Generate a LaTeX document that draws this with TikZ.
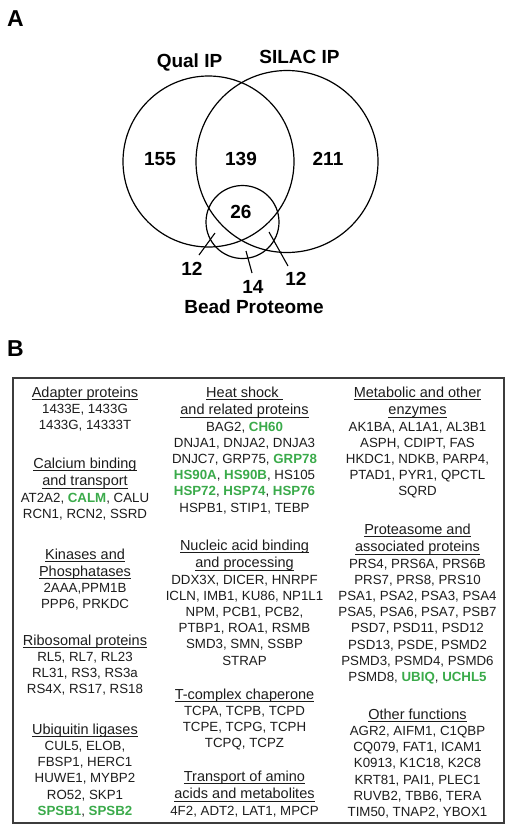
\documentclass[tikz,border=0pt]{standalone}
\usepackage{fontspec}
\setmainfont{Liberation Sans}
\definecolor{hl}{RGB}{58,170,74}
\definecolor{txt}{RGB}{28,28,28}
\definecolor{boxc}{RGB}{60,60,60}
\newcommand{\hd}[1]{{\fontsize{14.5}{17}\selectfont\rule{0pt}{11pt}\setbox0\hbox{#1}\rlap{\usebox0}\rule[-2.4pt]{\wd0}{0.8pt}}}
\newcommand{\g}[1]{\textcolor{hl}{\textbf{#1}}}
\tikzset{
  blk/.style={align=center, inner sep=0pt, anchor=north, text=txt,
    font=\fontsize{13.3}{16.2}\selectfont},
  num/.style={inner sep=0pt, anchor=base, font=\fontsize{19}{22}\selectfont\bfseries},
  panel/.style={inner sep=0pt, anchor=base west, font=\fontsize{23}{26}\selectfont\bfseries},
  venn/.style={line width=1.2pt},
  ptr/.style={line width=1.1pt}
}
\begin{document}
\begin{tikzpicture}[x=1pt,y=-1pt]
\useasboundingbox (0,0) rectangle (512,831);
% panel labels
\node[panel] (A) at (7,26) {A};
\node[panel] (B) at (7,356) {B};
% Venn
\draw[venn] (208.5,161.5) circle[radius=85.5];
\draw[venn] (287,161.5) circle[radius=91];
\draw[venn] (242.5,222) circle[radius=36.5];
\node[num] (qual) at (189.5,67) {Qual IP};
\node[num] (silac) at (299.5,63) {SILAC IP};
\node[num] (n155) at (160,165) {155};
\node[num] (n139) at (241,165) {139};
\node[num] (n211) at (328,165) {211};
\node[num] (n26) at (241,218) {26};
\node[num] (n12a) at (192,275) {12};
\node[num] (n14) at (253,293) {14};
\node[num] (n12b) at (296,285) {12};
\node[num] (bead) at (254,313) {Bead Proteome};
\coordinate (p1a) at (199,255); \coordinate (p1b) at (215,233);
\coordinate (p2a) at (252,273); \coordinate (p2b) at (246,251);
\coordinate (p3a) at (288,266); \coordinate (p3b) at (269,232);
\draw[ptr] (p1a) -- (p1b);
\draw[ptr] (p2a) -- (p2b);
\draw[ptr] (p3a) -- (p3b);
% table box
\draw[line width=1.4pt, boxc] (13,378) rectangle (504,823);
% column 1
\node[blk] (adapt) at (85,386) {\hd{Adapter proteins}\\1433E, 1433G\\1433G, 14333T};
\node[blk] (calc) at (85,457) {\hd{Calcium binding}\\[1.5pt]\hd{and transport}\\AT2A2, \g{CALM}, CALU\\RCN1, RCN2, SSRD};
\node[blk] (kin) at (85,548) {\hd{Kinases and}\\[1pt]\hd{Phosphatases}\\2AAA,PPM1B\\PPP6, PRKDC};
\node[blk] (ribo) at (85,634) {\hd{Ribosomal proteins}\\RL5, RL7, RL23\\RL31, RS3, RS3a\\RS4X, RS17, RS18};
\node[blk] (ubi) at (85,723) {\hd{Ubiquitin ligases}\\CUL5, ELOB,\\FBSP1, HERC1\\HUWE1, MYBP2\\RO52, SKP1\\\g{SPSB1}, \g{SPSB2}};
% column 2
\node[blk] (heat) at (244.5,386) {\hd{Heat shock\ }\\[1.5pt]\hd{and related proteins}\\BAG2, \g{CH60}\\DNJA1, DNJA2, DNJA3\\DNJC7, GRP75, \g{GRP78}\\\g{HS90A}, \g{HS90B}, HS105\\\g{HSP72}, \g{HSP74}, \g{HSP76}\\HSPB1, STIP1, TEBP};
\node[blk] (nuc) at (244.5,539) {\hd{Nucleic acid binding}\\[1.5pt]\hd{and processing}\\DDX3X, DICER, HNRPF\\ICLN, IMB1, KU86, NP1L1\\NPM, PCB1, PCB2,\\PTBP1, ROA1, RSMB\\SMD3, SMN, SSBP\\STRAP};
\node[blk] (tcp) at (244.5,688) {\hd{T-complex chaperone}\\TCPA, TCPB, TCPD\\TCPE, TCPG, TCPH\\TCPQ, TCPZ};
\node[blk] (trans) at (244.5,770) {\hd{Transport of amino}\\[1.5pt]\hd{acids and metabolites}\\4F2, ADT2, LAT1, MPCP};
% column 3
\node[blk] (meta) at (417.5,386) {\hd{Metabolic and other}\\[1.5pt]\hd{enzymes}\\AK1BA, AL1A1, AL3B1\\ASPH, CDIPT, FAS\\HKDC1, NDKB, PARP4,\\PTAD1, PYR1, QPCTL\\SQRD};
\node[blk] (prot) at (417.5,523) {\hd{Proteasome and}\\[1.5pt]\hd{associated proteins}\\PRS4, PRS6A, PRS6B\\PRS7, PRS8, PRS10\\PSA1, PSA2, PSA3, PSA4\\PSA5, PSA6, PSA7, PSB7\\PSD7, PSD11, PSD12\\PSD13, PSDE, PSMD2\\PSMD3, PSMD4, PSMD6\\PSMD8, \g{UBIQ}, \g{UCHL5}};
\node[blk] (other) at (417.5,708) {\hd{Other functions}\\AGR2, AIFM1, C1QBP\\CQ079, FAT1, ICAM1\\K0913, K1C18, K2C8\\KRT81, PAI1, PLEC1\\RUVB2, TBB6, TERA\\TIM50, TNAP2, YBOX1};
\end{tikzpicture}
\end{document}
